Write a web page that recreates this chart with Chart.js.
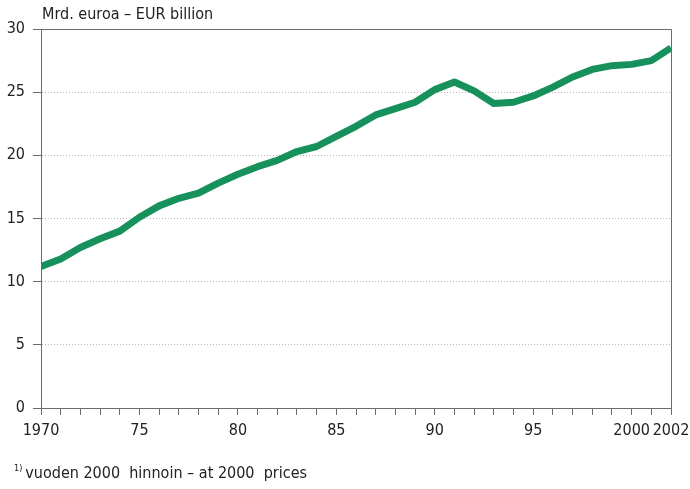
<!DOCTYPE html>
<html>
<head>
<meta charset="utf-8">
<script src="https://cdn.jsdelivr.net/npm/chart.js@4.4.1/dist/chart.umd.min.js"></script>
<style>
    body{
        margin:0;
        background:#fff;
        font-family:"Liberation Sans Narrow","DejaVu Sans Condensed","Liberation Sans",sans-serif;
        color:#222;
    }
    #wrap{
        position:relative;
        width:690px;
        height:489px;
    }
    #chart{
        position:absolute;
        left:0;
        top:0;
    }
    #title{
        position:absolute;
        left:42px;
        top:4px;
        font-size:16px;
    }
    #note{
        position:absolute;
        left:14px;
        top:463px;
        font-size:16px;
    }
    #note sup{
        font-size:9px;
        vertical-align:7px;
        margin-right:3px;
    }
</style>
</head>
<body>
<div id="wrap">
    <canvas id="chart" width="690" height="489"></canvas>
    <div id="title">Mrd. euroa – EUR billion</div>
    <div id="note"><sup>1)</sup>vuoden 2000&nbsp; hinnoin – at 2000&nbsp; prices</div>
</div>
<script>
/* ==========================================
   DATA
========================================== */

const years=[
    1970,1971,1972,1973,1974,1975,1976,1977,1978,1979,
    1980,1981,1982,1983,1984,1985,1986,1987,1988,1989,
    1990,1991,1992,1993,1994,1995,1996,1997,1998,1999,
    2000,2001,2002
];

const values=[
    11.2,11.8,12.7,13.4,14.0,15.1,16.0,16.6,17.0,17.8,
    18.5,19.1,19.6,20.3,20.7,21.5,22.3,23.2,23.7,24.2,
    25.2,25.8,25.1,24.1,24.2,24.7,25.4,26.2,26.8,27.1,
    27.2,27.5,28.5
];

const xTickYears=[1970,1975,1980,1985,1990,1995,2000,2002];
const xTickLabels=["1970","75","80","85","90","95","2000","2002"];

const yTicks=[0,5,10,15,20,25,30];


/* ==========================================
   FRAME PLUGIN (top and right border)
========================================== */

const framePlugin={
    id:"frame",
    afterDatasetsDraw(chart){
        const {ctx,chartArea:a}=chart;
        ctx.save();
        ctx.strokeStyle="#6b6b6b";
        ctx.lineWidth=1;
        ctx.beginPath();
        ctx.moveTo(a.left,a.top+0.5);
        ctx.lineTo(a.right+0.5,a.top+0.5);
        ctx.lineTo(a.right+0.5,a.bottom);
        ctx.stroke();
        ctx.restore();
    }
};


/* ==========================================
   CHART
========================================== */

const FONT={
    family:"'Liberation Sans Narrow','DejaVu Sans Condensed','Liberation Sans',sans-serif",
    size:16
};

const ctx=document.getElementById("chart").getContext("2d");

new Chart(ctx,{
    type:"line",
    data:{
        datasets:[{
            data:years.map((y,i)=>({x:y,y:values[i]})),
            borderColor:"#17915c",
            borderWidth:7,
            borderJoinStyle:"round",
            borderCapStyle:"butt",
            pointRadius:0,
            tension:0,
            fill:false
        }]
    },
    options:{
        responsive:false,
        animation:false,
        layout:{
            autoPadding:false,
            padding:{left:0,top:29,right:19,bottom:51}
        },
        plugins:{
            legend:{display:false},
            tooltip:{enabled:false}
        },
        scales:{
            x:{
                type:"linear",
                min:1970,
                max:2002,
                afterBuildTicks(scale){
                    scale.ticks=years.map(v=>({value:v}));
                },
                afterFit(scale){
                    scale.height=30;
                    scale.paddingLeft=0;
                    scale.paddingRight=0;
                },
                ticks:{
                    autoSkip:false,
                    maxRotation:0,
                    color:"#222",
                    font:FONT,
                    padding:6,
                    callback(v){
                        const k=xTickYears.indexOf(v);
                        return k>=0?xTickLabels[k]:"";
                    }
                },
                grid:{
                    drawOnChartArea:false,
                    drawTicks:true,
                    tickLength:7,
                    tickColor:"#6b6b6b",
                    tickWidth:1
                },
                border:{
                    color:"#6b6b6b",
                    width:1
                }
            },
            y:{
                min:0,
                max:30,
                afterBuildTicks(scale){
                    scale.ticks=yTicks.map(v=>({value:v}));
                },
                afterFit(scale){
                    scale.width=41;
                    scale.paddingTop=0;
                    scale.paddingBottom=0;
                },
                ticks:{
                    color:"#222",
                    font:FONT,
                    padding:8
                },
                grid:{
                    color:"#b8b8b8",
                    lineWidth:1,
                    tickLength:8,
                    tickColor:"#6b6b6b",
                    tickBorderDash:[]
                },
                border:{
                    color:"#6b6b6b",
                    width:1,
                    dash:[1,2]
                }
            }
        }
    },
    plugins:[framePlugin]
});
</script>
</body>
</html>
